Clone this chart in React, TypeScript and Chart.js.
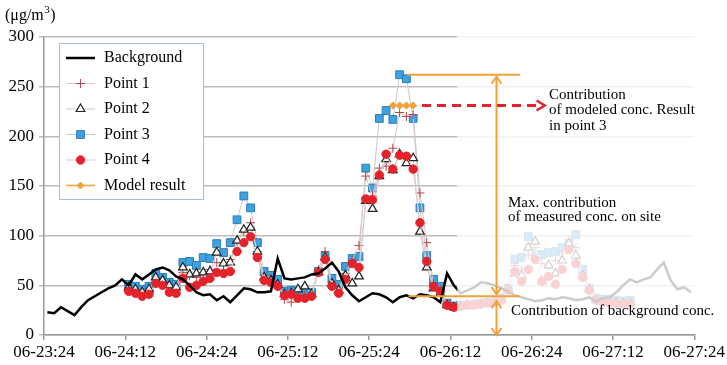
import React, { useEffect, useRef } from 'react';
import { Chart, registerables } from 'chart.js';

Chart.register(...registerables);

const FONT = "'Liberation Serif', 'Times New Roman', serif";

// ---- axis labels ----
const xTickLabels = ['06-23:24', '06-24:12', '06-24:24', '06-25:12', '06-25:24', '06-26:12', '06-26:24', '06-27:12', '06-27:24'];
const yUnit = '(μg/m';

// ---- hourly series (hour index 0..95, plotted at mid-hour) ----
const background = [
  23, 22, 28, 24, 20, 28, 35, 39, 43, 47, 50, 56, 50, 61, 56, 61, 66, 68, 65, 59,
  56, 50, 43, 40, 41, 35, 39, 33, 40, 47, 46, 43, 43, 44, 77, 57, 56, 57, 58, 61,
  62, 67, 73, 64, 48, 40, 34, 38, 42, 41, 38, 33, 38, 40, 37, 41, 40, 38, 33, 62,
  50, 42, 45, 48, 53, 52, 50, 47, 44, 40, 38, 36, 34, 35, 37, 36, 38, 37, 35, 36,
  38, 34, 37, 38, 43, 50, 56, 53, 56, 58, 66, 73, 55, 46, 48, 43,
];

const pointsStartHour = 12;
const point1 = [
  47, 45, 42, 45, 57, 54, 48, 46, 63, 60, 58, 62, 66, 73, 70, 76, 94, 104, 113, 84,
  60, 57, 52, 36, 33, 40, 40, 40, 66, 84, 53, 47, 62, 75, 90, 160, 140, 168, 170, 188,
  224, 220, 222, 143, 93, 52, 46, 31, 28,
  30, 31, 31, 32, 33, 34, 36, 46, 70, 66, 80, 88, 72, 70, 75, 82, 96, 88, 62, 46, 36, 34, 34, 33, 33, 33,
];
const point2 = [
  48, 46, 43, 46, 58, 55, 50, 48, 68, 61, 62, 63, 64, 83, 72, 73, 95, 106, 108, 84,
  58, 55, 51, 41, 42, 46, 49, 41, 63, 78, 52, 45, 60, 52, 59, 135, 127, 160, 177, 166,
  182, 173, 178, 104, 68, 47, 42, 30, 28,
  29, 30, 30, 31, 32, 33, 35, 46, 62, 60, 88, 94, 54, 70, 62, 75, 92, 80, 60, 46, 35, 33, 33, 33, 32, 32,
];
const point3 = [
  51, 49, 46, 49, 62, 58, 53, 51, 73, 74, 70, 78, 77, 92, 83, 93, 116, 140, 128, 93,
  64, 60, 56, 44, 45, 44, 44, 43, 64, 79, 57, 51, 69, 77, 79, 168, 148, 218, 226, 217,
  262, 258, 218, 128, 80, 56, 49, 32, 29,
  30, 30, 31, 32, 33, 34, 38, 47, 76, 78, 99, 80, 81, 83, 84, 88, 92, 101, 66, 47, 37, 36, 36, 35, 34, 35,
];
const point4 = [
  44, 42, 39, 41, 52, 50, 43, 42, 57, 48, 50, 54, 57, 63, 62, 64, 84, 93, 99, 78,
  55, 53, 49, 40, 41, 37, 37, 39, 63, 76, 49, 42, 56, 72, 68, 137, 136, 161, 182, 167,
  181, 180, 167, 113, 74, 49, 44, 30, 28,
  29, 30, 30, 31, 32, 33, 35, 45, 64, 54, 66, 76, 54, 59, 51, 66, 86, 72, 58, 45, 35, 33, 32, 32, 31, 31,
];
const modelStartHour = 51;
const modelResult = [231, 231, 231, 231];

// ---- annotation values ----
const fadeFromHour = 61;
const backgroundLevel = 39;
const maxMeasured = Math.max(...point3);
const modelValue = Math.max(...modelResult);

const toXY = (arr: number[], start: number) => arr.map((v, i) => ({ x: start + i + 0.5, y: v }));

const ORANGE = '#F2A13A';
const RED = '#E4222B';
const BLUE = '#3FA2DE';
const BLUE_B = '#2B7DB8';
const PLUS = '#B3474A';

function drawMarker(ctx: CanvasRenderingContext2D, style: string, x: number, y: number, r: number, fill: string, stroke: string, lw: number) {
  ctx.save();
  ctx.beginPath();
  ctx.lineWidth = lw;
  ctx.fillStyle = fill;
  ctx.strokeStyle = stroke;
  if (style === 'circle') {
    ctx.arc(x, y, r, 0, Math.PI * 2);
    ctx.fill();
    ctx.stroke();
  } else if (style === 'rect') {
    const s = r * Math.SQRT1_2;
    ctx.rect(x - s, y - s, 2 * s, 2 * s);
    ctx.fill();
    ctx.stroke();
  } else if (style === 'triangle') {
    for (let k = 0; k < 3; k++) {
      const a = -Math.PI / 2 + (k * 2 * Math.PI) / 3;
      const px = x + r * Math.cos(a);
      const py = y + r * Math.sin(a);
      if (k === 0) ctx.moveTo(px, py); else ctx.lineTo(px, py);
    }
    ctx.closePath();
    ctx.fill();
    ctx.stroke();
  } else if (style === 'cross') {
    ctx.moveTo(x - r, y); ctx.lineTo(x + r, y);
    ctx.moveTo(x, y - r); ctx.lineTo(x, y + r);
    ctx.stroke();
  } else if (style === 'rectRot') {
    ctx.moveTo(x, y - r); ctx.lineTo(x + r, y); ctx.lineTo(x, y + r); ctx.lineTo(x - r, y);
    ctx.closePath();
    ctx.fill();
    ctx.stroke();
  }
  ctx.restore();
}

function arrowHead(ctx: CanvasRenderingContext2D, tx: number, ty: number, dir: 'up' | 'down' | 'right', half: number, len: number) {
  ctx.beginPath();
  if (dir === 'up') {
    ctx.moveTo(tx - half, ty + len); ctx.lineTo(tx, ty); ctx.lineTo(tx + half, ty + len);
  } else if (dir === 'down') {
    ctx.moveTo(tx - half, ty - len); ctx.lineTo(tx, ty); ctx.lineTo(tx + half, ty - len);
  } else {
    ctx.moveTo(tx - len, ty - half); ctx.lineTo(tx, ty); ctx.lineTo(tx - len, ty + half);
  }
  ctx.stroke();
}

const legendItems = [
  { label: 'Background', line: '#000', lineWidth: 2.5, marker: '', fill: '', stroke: '', r: 0, lw: 0 },
  { label: 'Point 1', line: '#D9C6C6', lineWidth: 1, marker: 'cross', fill: PLUS, stroke: PLUS, r: 4.5, lw: 1 },
  { label: 'Point 2', line: '#C8C8C8', lineWidth: 1, marker: 'triangle', fill: '#fff', stroke: '#222', r: 5, lw: 1.2 },
  { label: 'Point 3', line: '#C8C8C8', lineWidth: 1, marker: 'rect', fill: BLUE, stroke: BLUE_B, r: 5.5, lw: 1 },
  { label: 'Point 4', line: '#E3CACA', lineWidth: 1, marker: 'circle', fill: RED, stroke: RED, r: 4.2, lw: 1 },
  { label: 'Model result', line: ORANGE, lineWidth: 1.5, marker: 'rectRot', fill: ORANGE, stroke: ORANGE, r: 3.5, lw: 1 },
];

const annotPlugin = {
  id: 'annot',
  afterDatasetsDraw(chart: any) {
    const { ctx, chartArea: ca, scales } = chart;
    const xs = scales.x;
    const ys = scales.y;
    ctx.save();
    // faded right part
    const fx = xs.getPixelForValue(fadeFromHour);
    ctx.fillStyle = 'rgba(255,255,255,0.8)';
    ctx.fillRect(fx, ca.top - 4, ca.right + 10 - fx, ca.bottom - 1 - (ca.top - 4));

    // orange lines
    ctx.strokeStyle = ORANGE;
    ctx.lineWidth = 2;
    const yTop = ys.getPixelForValue(maxMeasured);
    const yBg = ys.getPixelForValue(backgroundLevel);
    const yZero = ys.getPixelForValue(0);
    ctx.beginPath();
    ctx.moveTo(xs.getPixelForValue(53.6), yTop);
    ctx.lineTo(xs.getPixelForValue(70.3), yTop);
    ctx.moveTo(xs.getPixelForValue(53.8), yBg);
    ctx.lineTo(xs.getPixelForValue(70.2), yBg);
    ctx.stroke();
    const ax = xs.getPixelForValue(66.8);
    ctx.beginPath();
    ctx.moveTo(ax, yTop + 2);
    ctx.lineTo(ax, yBg - 2);
    ctx.moveTo(ax, yBg + 4);
    ctx.lineTo(ax, yZero);
    ctx.stroke();
    arrowHead(ctx, ax, yTop + 2, 'up', 5, 7);
    arrowHead(ctx, ax, yBg - 2, 'down', 5, 7);
    arrowHead(ctx, ax, yBg + 5, 'up', 5, 7);
    arrowHead(ctx, ax, yZero, 'down', 5, 7);

    // red dashed arrow
    const yM = ys.getPixelForValue(modelValue);
    const dx0 = xs.getPixelForValue(55.8);
    const dx1 = xs.getPixelForValue(73.9);
    ctx.strokeStyle = RED;
    ctx.lineWidth = 3;
    ctx.setLineDash([9, 6]);
    ctx.beginPath();
    ctx.moveTo(dx0, yM);
    ctx.lineTo(dx1 - 4, yM);
    ctx.stroke();
    ctx.setLineDash([]);
    ctx.lineWidth = 2.5;
    arrowHead(ctx, dx1, yM, 'right', 5, 8);

    // texts
    ctx.fillStyle = '#000';
    ctx.font = `15px ${FONT}`;
    ctx.textAlign = 'left';
    ctx.textBaseline = 'middle';
    ctx.fillText('Contribution', 549, 95);
    ctx.fillText('of modeled conc. Result', 549, 110.5);
    ctx.fillText('in point 3', 549, 126);
    ctx.fillText('Max. contribution', 508, 203);
    ctx.fillText('of measured conc. on site', 508, 217);
    ctx.fillText('Contribution of background conc.', 511, 311);
    ctx.restore();
  },
  afterDraw(chart: any) {
    const { ctx } = chart;
    ctx.save();
    // unit label
    ctx.fillStyle = '#000';
    ctx.textBaseline = 'middle';
    ctx.textAlign = 'left';
    ctx.font = `16px ${FONT}`;
    ctx.fillText(yUnit, 5, 16);
    const w = ctx.measureText(yUnit).width;
    ctx.font = `11px ${FONT}`;
    ctx.fillText('3', 5 + w + 0.5, 10);
    const w3 = ctx.measureText('3').width;
    ctx.font = `16px ${FONT}`;
    ctx.fillText(')', 5 + w + w3 + 1, 16);

    // legend box
    ctx.fillStyle = '#fff';
    ctx.fillRect(59.5, 43.5, 144, 156);
    ctx.strokeStyle = '#9DBFE0';
    ctx.lineWidth = 1;
    ctx.strokeRect(59.5, 43.5, 144, 156);
    legendItems.forEach((it, i) => {
      const yy = 58 + i * 25.5;
      ctx.strokeStyle = it.line;
      ctx.lineWidth = it.lineWidth;
      ctx.beginPath();
      ctx.moveTo(66, yy);
      ctx.lineTo(95, yy);
      ctx.stroke();
      if (it.marker) drawMarker(ctx, it.marker, 80.5, yy, it.r, it.fill, it.stroke, it.lw);
      ctx.fillStyle = '#000';
      ctx.font = `16px ${FONT}`;
      ctx.textAlign = 'left';
      ctx.textBaseline = 'middle';
      ctx.fillText(it.label, 104, yy);
    });
    ctx.restore();
  },
};

export default function App() {
  const ref = useRef<HTMLCanvasElement>(null);
  useEffect(() => {
    const canvas = ref.current;
    if (!canvas) return;
    const chart = new Chart(canvas, {
      type: 'line',
      data: {
        datasets: [
          {
            label: 'Background', data: toXY(background, 0), borderColor: '#000', borderWidth: 2.5,
            pointRadius: 0, tension: 0, order: 1,
          },
          {
            label: 'Point 1', data: toXY(point1, pointsStartHour), borderColor: '#D9C6C6', borderWidth: 1,
            pointStyle: 'cross', pointRadius: 4.5, pointBorderColor: PLUS, pointBackgroundColor: PLUS, pointBorderWidth: 1, order: 4,
          },
          {
            label: 'Point 2', data: toXY(point2, pointsStartHour), borderColor: '#C8C8C8', borderWidth: 1,
            pointStyle: 'triangle', pointRadius: 5, pointBorderColor: '#222', pointBackgroundColor: 'rgba(255,255,255,0.9)', pointBorderWidth: 1.2, order: 3,
          },
          {
            label: 'Point 3', data: toXY(point3, pointsStartHour), borderColor: '#C8C8C8', borderWidth: 1,
            pointStyle: 'rect', pointRadius: 5.5, pointBorderColor: BLUE_B, pointBackgroundColor: BLUE, pointBorderWidth: 1, order: 5,
          },
          {
            label: 'Point 4', data: toXY(point4, pointsStartHour), borderColor: '#E3CACA', borderWidth: 1,
            pointStyle: 'circle', pointRadius: 4.2, pointBorderColor: RED, pointBackgroundColor: RED, pointBorderWidth: 1, order: 2,
          },
          {
            label: 'Model result', data: toXY(modelResult, modelStartHour), borderColor: ORANGE, borderWidth: 1.5,
            pointStyle: 'rectRot', pointRadius: 3.6, pointBorderColor: ORANGE, pointBackgroundColor: ORANGE, pointBorderWidth: 1, order: 0,
          },
        ],
      },
      options: {
        responsive: false,
        animation: false,
        devicePixelRatio: 1,
        layout: { padding: { top: 37, right: 30, left: 0, bottom: 0 } },
        plugins: { legend: { display: false }, tooltip: { enabled: false } },
        scales: {
          x: {
            type: 'linear', min: 0, max: 96,
            ticks: {
              stepSize: 12, autoSkip: false, maxRotation: 0, color: '#000', padding: 2,
              font: { size: 17, family: FONT },
              callback: (_v: any, i: number) => xTickLabels[i],
            },
            grid: { drawOnChartArea: false, drawTicks: true, tickLength: 5, color: '#9a9a9a', lineWidth: 1.5 },
            border: { display: true, color: '#9a9a9a', width: 1.5 },
            afterFit: (s: any) => { s.height = 30; },
          },
          y: {
            min: 0, max: 300,
            ticks: { stepSize: 50, color: '#000', padding: 5, font: { size: 17, family: FONT } },
            grid: { color: '#bdbdbd', lineWidth: 1.5, tickLength: 5 },
            border: { display: true, color: '#9a9a9a', width: 1.5 },
            afterFit: (s: any) => { s.width = 44; },
          },
        },
      },
      plugins: [annotPlugin],
    } as any);
    return () => chart.destroy();
  }, []);
  return (
    <div style={{ position: 'fixed', left: 0, top: 0, width: 727, height: 365, background: '#fff' }}>
      <canvas ref={ref} width={727} height={365} style={{ display: 'block' }} />
    </div>
  );
}
